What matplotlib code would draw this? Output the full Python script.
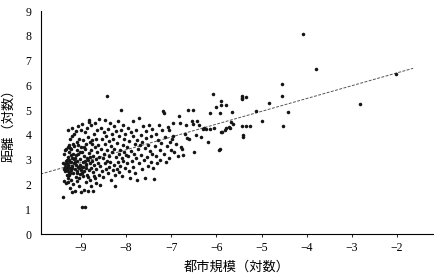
import numpy as np
import matplotlib
matplotlib.use("Agg")
import matplotlib.pyplot as plt

# points, grouped in bands of city size
band_a = [(-9.41, 1.50), (-9.38, 2.15), (-9.36, 2.55), (-9.35, 2.72), (-9.34, 2.95), (-9.33, 3.45),
          (-9.32, 2.40), (-9.31, 2.62), (-9.30, 3.10), (-9.30, 2.28), (-9.29, 3.52), (-9.28, 2.80),
          (-9.28, 4.22), (-9.27, 2.50), (-9.26, 3.30), (-9.25, 2.68), (-9.25, 1.85), (-9.24, 3.85),
          (-9.24, 2.92), (-9.23, 2.20), (-9.22, 3.42), (-9.22, 2.58), (-9.21, 3.05), (-9.21, 4.30),
          (-9.20, 2.75), (-9.20, 1.68), (-9.36, 3.40), (-9.33, 2.05), (-9.31, 2.85), (-9.27, 3.58),
          (-9.26, 2.38), (-9.23, 3.18), (-9.34, 2.62), (-9.29, 2.70), (-9.39, 2.88), (-9.37, 3.22),
          (-9.28, 2.12), (-9.22, 2.90), (-9.35, 2.82), (-9.32, 3.00), (-9.30, 2.55), (-9.27, 2.98),
          (-9.25, 3.48), (-9.24, 2.48), (-9.21, 2.68), (-9.38, 2.62)]
band_b = [(-9.19, 3.95), (-9.18, 2.45), (-9.18, 3.25), (-9.17, 2.02), (-9.16, 2.85), (-9.16, 4.05),
          (-9.15, 3.55), (-9.14, 2.62), (-9.14, 1.72), (-9.13, 3.08), (-9.12, 2.30), (-9.12, 4.15),
          (-9.11, 2.78), (-9.10, 3.40), (-9.10, 2.55), (-9.09, 3.70), (-9.08, 2.15), (-9.08, 2.95),
          (-9.07, 4.38), (-9.06, 3.22), (-9.05, 2.68), (-9.05, 1.92), (-9.04, 3.85), (-9.03, 2.42),
          (-9.02, 3.02), (-9.02, 2.80), (-9.01, 4.20), (-9.01, 3.50), (-9.00, 2.60), (-9.00, 1.70),
          (-9.17, 3.65), (-9.13, 2.90), (-9.09, 2.48), (-9.06, 3.60), (-9.04, 2.25), (-9.15, 3.02),
          (-9.11, 3.18), (-9.07, 2.72), (-9.03, 3.32)]
band_c = [(-8.99, 3.30), (-8.98, 2.72), (-8.98, 1.10), (-8.97, 4.45), (-8.96, 2.35), (-8.96, 3.78),
          (-8.95, 2.92), (-8.94, 3.15), (-8.94, 1.78), (-8.93, 2.55), (-8.92, 4.10), (-8.92, 1.10),
          (-8.91, 3.45), (-8.90, 2.82), (-8.90, 2.10), (-8.89, 3.62), (-8.88, 2.65), (-8.87, 4.28),
          (-8.87, 3.05), (-8.86, 2.40), (-8.85, 3.90), (-8.84, 2.98), (-8.84, 1.75), (-8.83, 3.28),
          (-8.82, 2.58), (-8.82, 4.62), (-8.81, 3.12), (-8.80, 2.20), (-8.80, 3.70), (-8.97, 2.48),
          (-8.93, 3.52), (-8.89, 2.78), (-8.85, 2.30), (-8.83, 4.52), (-8.81, 2.88), (-8.95, 2.70),
          (-8.91, 2.95)]
band_d = [(-8.79, 2.68), (-8.78, 3.40), (-8.78, 1.95), (-8.77, 4.40), (-8.76, 2.95), (-8.75, 3.65),
          (-8.74, 2.50), (-8.74, 1.72), (-8.73, 3.15), (-8.72, 4.05), (-8.71, 2.78), (-8.70, 3.50),
          (-8.70, 2.25), (-8.69, 4.48), (-8.68, 3.02), (-8.67, 2.62), (-8.66, 3.85), (-8.66, 2.05),
          (-8.65, 3.30), (-8.64, 4.20), (-8.63, 2.88), (-8.62, 3.58), (-8.61, 2.40), (-8.60, 4.65),
          (-8.60, 3.10), (-8.76, 3.80), (-8.72, 2.35)]
band_e = [(-8.58, 1.97), (-8.57, 2.75), (-8.56, 3.45), (-8.55, 4.30), (-8.54, 2.55), (-8.53, 3.85),
          (-8.52, 3.05), (-8.51, 2.30), (-8.50, 4.10), (-8.49, 3.25), (-8.48, 2.85), (-8.47, 4.62),
          (-8.46, 3.62), (-8.45, 2.62), (-8.44, 3.95), (-8.43, 2.95), (-8.42, 5.56), (-8.42, 3.40),
          (-8.41, 2.45), (-8.40, 4.25), (-8.39, 3.15), (-8.38, 2.70), (-8.37, 3.75), (-8.36, 4.50),
          (-8.35, 2.92), (-8.34, 3.55), (-8.33, 2.20), (-8.32, 4.05), (-8.31, 3.30), (-8.30, 2.58)]
band_f = [(-8.29, 3.82), (-8.28, 4.35), (-8.27, 2.78), (-8.26, 3.45), (-8.25, 2.40), (-8.24, 1.93),
          (-8.23, 3.10), (-8.22, 4.15), (-8.21, 2.62), (-8.20, 3.68), (-8.19, 2.90), (-8.18, 4.55),
          (-8.17, 3.25), (-8.16, 2.50), (-8.15, 3.95), (-8.14, 3.40), (-8.13, 2.75), (-8.12, 4.20),
          (-8.11, 5.02), (-8.10, 3.05), (-8.09, 2.35), (-8.08, 3.60), (-8.07, 4.40), (-8.06, 2.95),
          (-8.05, 3.30), (-8.04, 3.85), (-8.03, 2.68), (-8.02, 4.05), (-8.01, 3.18)]
band_g = [(-7.99, 2.85), (-7.98, 3.50), (-7.97, 4.30), (-7.95, 3.15), (-7.94, 2.55), (-7.93, 3.75),
          (-7.92, 2.25), (-7.90, 4.10), (-7.89, 3.35), (-7.88, 2.95), (-7.86, 3.95), (-7.85, 2.70),
          (-7.84, 4.55), (-7.83, 3.25), (-7.81, 3.62), (-7.80, 2.45), (-7.79, 4.22), (-7.78, 3.05),
          (-7.76, 3.80), (-7.75, 2.20), (-7.74, 3.45), (-7.72, 4.68), (-7.71, 2.88), (-7.70, 3.58)]
band_h = [(-7.68, 4.00), (-7.67, 3.20), (-7.65, 2.62), (-7.64, 3.70), (-7.62, 4.35), (-7.61, 2.98),
          (-7.59, 3.48), (-7.58, 2.28), (-7.56, 3.88), (-7.55, 4.15), (-7.54, 3.12), (-7.52, 2.75),
          (-7.51, 3.60), (-7.49, 4.42), (-7.48, 3.35), (-7.46, 2.92), (-7.45, 3.95), (-7.43, 3.25),
          (-7.42, 4.25), (-7.40, 2.65)]
band_i = [(-7.38, 2.22), (-7.37, 3.55), (-7.35, 4.05), (-7.33, 3.15), (-7.31, 2.85), (-7.30, 3.80),
          (-7.28, 4.40), (-7.26, 3.40), (-7.24, 2.98), (-7.22, 3.68), (-7.20, 4.20), (-7.18, 4.95),
          (-7.17, 4.88), (-7.16, 3.25), (-7.14, 3.90), (-7.12, 2.90), (-7.10, 3.55), (-7.08, 4.32),
          (-7.06, 3.05), (-7.04, 4.22), (-7.02, 3.72), (-7.00, 3.38)]
band_j = [(-6.99, 3.83), (-6.96, 4.48), (-6.96, 3.95), (-6.93, 3.30), (-6.90, 3.62), (-6.86, 3.15),
          (-6.84, 4.78), (-6.80, 4.48), (-6.78, 3.50), (-6.76, 3.42), (-6.73, 3.21), (-6.70, 4.05),
          (-6.68, 4.40), (-6.66, 3.88), (-6.62, 5.00), (-6.60, 3.85), (-6.55, 4.58), (-6.52, 4.45),
          (-6.51, 5.00), (-6.50, 3.30)]
band_k = [(-6.45, 4.00), (-6.42, 4.57), (-6.38, 4.42), (-6.35, 3.90), (-6.30, 4.25), (-6.28, 4.30),
          (-6.24, 4.23), (-6.19, 3.72), (-6.15, 4.90), (-6.15, 4.25), (-6.08, 5.66), (-6.06, 4.29),
          (-6.00, 5.13), (-5.95, 3.39), (-5.92, 4.90), (-5.91, 3.43), (-5.90, 5.36), (-5.90, 5.20),
          (-5.89, 4.10), (-5.87, 4.10), (-5.80, 4.22), (-5.78, 5.22)]
band_l = [(-5.78, 4.30), (-5.72, 4.32), (-5.70, 4.28), (-5.65, 4.91), (-5.67, 4.53), (-5.64, 4.46),
          (-5.44, 5.56), (-5.44, 5.50), (-5.43, 5.44), (-5.35, 5.55), (-5.43, 4.38), (-5.35, 4.38),
          (-5.25, 4.38), (-5.42, 3.98), (-5.42, 3.91), (-5.12, 4.95), (-4.99, 4.57), (-4.84, 5.28),
          (-4.55, 5.59), (-4.54, 6.04), (-4.53, 4.35), (-4.42, 4.92), (-4.07, 8.06), (-3.80, 6.65),
          (-2.82, 5.25), (-2.01, 6.45)]

trend_x = [-9.9, -1.64]
trend_y = [2.42, 6.69]

xticks = [-9, -8, -7, -6, -5, -4, -3, -2]
yticks = [0, 1, 2, 3, 4, 5, 6, 7, 8, 9]

pts = np.array(band_a + band_b + band_c + band_d + band_e + band_f +
               band_g + band_h + band_i + band_j + band_k + band_l)

plt.rcParams['font.family'] = ['Liberation Serif', 'Noto Sans CJK JP']
fig = plt.figure(figsize=(4.4, 2.77), dpi=100)
ax = fig.add_axes([0.093, 0.155, 0.891, 0.805])

ax.scatter(pts[:, 0], pts[:, 1], s=6.5, color='#151515', linewidths=0, zorder=3)
ax.plot(trend_x, trend_y, linestyle=(0, (3, 1.5)), color='#555555', linewidth=0.7, zorder=2)

ax.set_xlim(-9.89, -1.2)
ax.set_ylim(0, 9)
ax.set_xticks(xticks)
ax.set_xticklabels(['\u2212%d' % abs(t) for t in xticks])
ax.set_yticks(yticks)
ax.tick_params(axis='x', direction='out', length=2, width=0.6, labelsize=8.5, pad=4)
ax.tick_params(axis='y', length=0, labelsize=8.5, pad=7)
for s in ['top', 'right']:
    ax.spines[s].set_visible(False)
for s in ['left', 'bottom']:
    ax.spines[s].set_linewidth(0.8)

ax.set_xlabel('都市規模（対数）', fontsize=9.5, labelpad=5)
ax.set_ylabel('距離（対数）', fontsize=9.5, labelpad=7)

fig.savefig('out.png', dpi=100)
